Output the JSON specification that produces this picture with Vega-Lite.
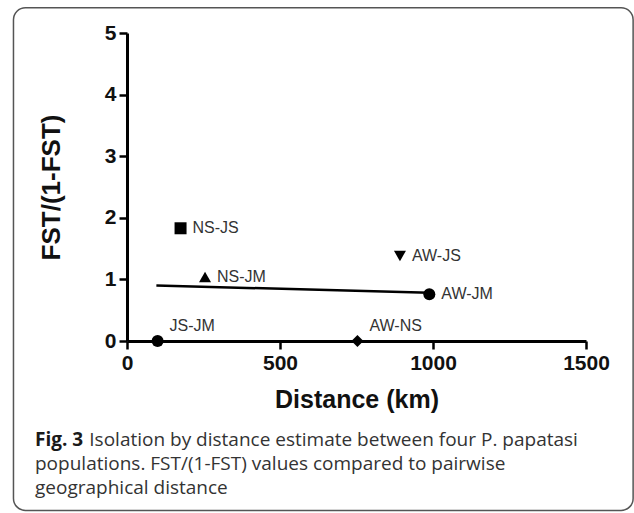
{
  "$schema": "https://vega.github.io/schema/vega-lite/v6.json",
  "width": 459,
  "height": 308,
  "autosize": {"type": "none"},
  "padding": {"left": 127, "top": 33, "right": 48, "bottom": 172},
  "background": "white",
  "config": {
    "view": {"stroke": null},
    "font": "Liberation Sans",
    "axis": {
      "grid": false,
      "domainColor": "#000",
      "domainWidth": 3,
      "tickColor": "#000",
      "tickWidth": 2.5,
      "tickSize": 8,
      "labelFont": "Liberation Sans",
      "labelFontWeight": "bold",
      "labelFontSize": 21,
      "labelColor": "#111",
      "labelPadding": 3,
      "labelFlush": false,
      "titleFont": "Liberation Sans",
      "titleFontWeight": "bold",
      "titleColor": "#111",
      "format": "d"
    },
    "axisX": {"titlePadding": 14, "titleFontSize": 25},
    "axisY": {"titlePadding": 40, "titleFontSize": 26}
  },
  "datasets": {
    "pairs": [
      {"pair": "JS-JM", "distance": 100, "fst": 0},
      {"pair": "NS-JS", "distance": 175, "fst": 1.83},
      {"pair": "NS-JM", "distance": 255, "fst": 1.04},
      {"pair": "AW-NS", "distance": 753, "fst": 0},
      {"pair": "AW-JS", "distance": 892, "fst": 1.38},
      {"pair": "AW-JM", "distance": 988, "fst": 0.76}
    ],
    "trend": [
      {"distance": 96, "fst": 0.9},
      {"distance": 988, "fst": 0.785}
    ]
  },
  "title": {
    "text": "Fig. 3",
    "subtitle": [
      "\u200b\u00a0\u00a0\u00a0\u00a0\u00a0\u00a0\u00a0\u00a0\u00a0\u00a0\u00a0Isolation by distance estimate between four P. papatasi",
      "populations. FST/(1-FST) values compared to pairwise",
      "geographical distance"
    ],
    "orient": "bottom",
    "anchor": "start",
    "frame": "group",
    "dx": -92,
    "offset": -80,
    "font": "Open Sans",
    "fontSize": 19,
    "fontWeight": "bold",
    "color": "#1a1a1a",
    "subtitleFont": "Open Sans",
    "subtitleFontSize": 19,
    "subtitleFontWeight": "normal",
    "subtitleColor": "#333",
    "subtitleLineHeight": 24,
    "subtitlePadding": -19
  },
  "layer": [
    {
      "data": {"values": [{}]},
      "mark": {"type": "rect", "fill": null, "stroke": "#555", "strokeWidth": 1.5, "cornerRadius": 12},
      "encoding": {
        "x": {"datum": -371, "type": "quantitative", "scale": {"domain": [0, 1500], "nice": false}, "axis": {"values": [0, 500, 1000, 1500], "title": "Distance (km)"}},
        "x2": {"datum": 1654},
        "y": {"datum": 5.41, "type": "quantitative", "scale": {"domain": [0, 5], "nice": false}, "axis": {"values": [0, 1, 2, 3, 4, 5], "title": "FST/(1-FST)"}},
        "y2": {"datum": -2.75}
      }
    },
    {
      "data": {"name": "trend"},
      "mark": {"type": "line", "color": "#000", "strokeWidth": 2.5},
      "encoding": {
        "x": {"field": "distance", "type": "quantitative", "scale": {"domain": [0, 1500], "nice": false}, "axis": {"values": [0, 500, 1000, 1500], "title": "Distance (km)"}},
        "y": {"field": "fst", "type": "quantitative", "scale": {"domain": [0, 5], "nice": false}, "axis": {"values": [0, 1, 2, 3, 4, 5], "title": "FST/(1-FST)"}}
      }
    },
    {
      "data": {"name": "pairs"},
      "mark": {"type": "point", "filled": true, "opacity": 1, "color": "#000"},
      "encoding": {
        "x": {"field": "distance", "type": "quantitative", "scale": {"domain": [0, 1500], "nice": false}, "axis": {"values": [0, 500, 1000, 1500], "title": "Distance (km)"}},
        "y": {"field": "fst", "type": "quantitative", "scale": {"domain": [0, 5], "nice": false}, "axis": {"values": [0, 1, 2, 3, 4, 5], "title": "FST/(1-FST)"}},
        "shape": {
          "field": "pair",
          "type": "nominal",
          "scale": {
            "domain": ["JS-JM", "NS-JS", "NS-JM", "AW-NS", "AW-JS", "AW-JM"],
            "range": ["circle", "square", "triangle-up", "diamond", "triangle-down", "circle"]
          },
          "legend": null
        },
        "size": {
          "field": "pair",
          "type": "nominal",
          "scale": {
            "domain": ["JS-JM", "NS-JS", "NS-JM", "AW-NS", "AW-JS", "AW-JM"],
            "range": [144, 144, 160, 190, 160, 144]
          },
          "legend": null
        }
      }
    },
    {
      "data": {"name": "pairs"},
      "transform": [{"filter": "datum.fst != 0"}],
      "mark": {"type": "text", "align": "left", "baseline": "middle", "dx": 12, "fontSize": 16, "font": "Liberation Sans", "color": "#333"},
      "encoding": {
        "x": {"field": "distance", "type": "quantitative"},
        "y": {"field": "fst", "type": "quantitative"},
        "text": {"field": "pair"}
      }
    },
    {
      "data": {"name": "pairs"},
      "transform": [{"filter": "datum.fst == 0"}],
      "mark": {"type": "text", "align": "left", "baseline": "middle", "dx": 12, "dy": -15, "fontSize": 16, "font": "Liberation Sans", "color": "#333"},
      "encoding": {
        "x": {"field": "distance", "type": "quantitative"},
        "y": {"field": "fst", "type": "quantitative"},
        "text": {"field": "pair"}
      }
    }
  ]
}
